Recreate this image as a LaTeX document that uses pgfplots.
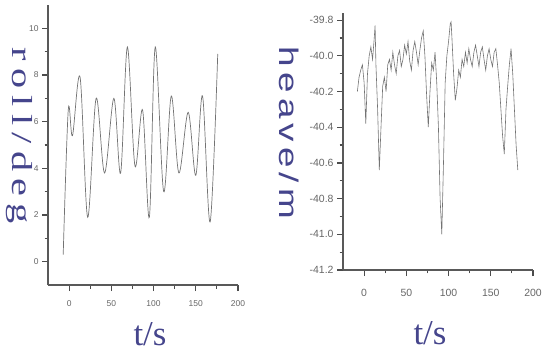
\documentclass[border=0pt]{standalone}
\usepackage{pgfplots}
\pgfplotsset{compat=1.18}
\usepackage{graphicx}
\usepackage{fontspec}
\setmainfont{Liberation Sans}
\newfontfamily\serif{Liberation Serif}
\definecolor{lab}{rgb}{0.27,0.27,0.55}
\definecolor{curve}{gray}{0.45}
\pgfplotsset{
  myaxis/.style={
    scale only axis,
    axis x line=bottom,
    axis y line=left,
    axis line style={-, line width=1.1pt, black!65},
    tick align=outside,
    major tick length=6bp,
    minor tick length=3.5bp,
    every tick/.style={black!70, line width=1.2pt},
    xtick={0,50,100,150,200},
    minor x tick num=1,
    xmin=-25, xmax=200,
    clip=false,
    /pgf/number format/assume math mode=true,
  }
}
\pgfplotstableread{
t v
-7 0.3
-1 6.5
4 5.4
13 7.9
22 1.9
32 7.0
42 3.8
53 7.0
61 3.8
69 9.2
78 4.1
87 6.5
95 1.9
102 9.2
112 3.0
121 7.1
130 3.8
141 6.4
150 3.7
158 7.1
167 1.7
176 8.9
}\roll
\pgfplotstableread{
t v
-8 -40.20
-6 -40.12
-4 -40.08
-2 -40.05
0 -40.15
2 -40.38
4 -40.10
6 -40.00
8 -39.95
10 -40.02
12 -39.90
13 -39.83
14 -40.05
16 -40.30
18 -40.64
20 -40.40
22 -40.17
24 -40.12
26 -40.20
28 -40.05
30 -40.02
32 -40.08
34 -39.98
36 -40.05
38 -40.10
40 -40.00
42 -39.97
44 -40.06
46 -40.02
48 -39.94
50 -39.99
52 -39.92
54 -40.03
56 -40.08
58 -39.97
60 -39.92
62 -39.98
64 -40.05
66 -39.97
68 -39.90
70 -39.86
72 -40.00
74 -40.22
76 -40.40
78 -40.20
80 -40.04
82 -40.08
84 -39.98
86 -40.15
88 -40.40
90 -40.80
92 -41.00
94 -40.60
96 -40.15
98 -40.00
100 -39.92
102 -39.82
103 -39.81
104 -39.90
106 -40.10
108 -40.25
110 -40.18
112 -40.08
114 -40.12
116 -40.02
118 -40.06
120 -39.98
122 -40.04
124 -39.96
126 -40.02
128 -40.06
130 -39.98
132 -39.94
134 -40.00
136 -40.06
138 -39.98
140 -39.95
142 -40.02
144 -40.08
146 -40.00
148 -39.96
150 -40.02
152 -40.06
154 -39.98
156 -39.96
158 -40.05
160 -40.15
162 -40.30
164 -40.45
166 -40.55
168 -40.30
170 -40.17
172 -40.05
174 -39.96
176 -40.10
178 -40.30
180 -40.50
182 -40.64
}\heave
\begin{document}
\begin{tikzpicture}
\path[use as bounding box] (0bp,0bp) rectangle (546bp,354bp);
\begin{axis}[myaxis,
  at={(48bp,69bp)}, anchor=south west,
  width=190bp, height=280bp,
  ymin=-1, ymax=11,
  ytick={0,2,4,6,8,10},
  minor y tick num=1,
  ticklabel style={font=\fontsize{8.5}{9}\selectfont, text=black!60},
  xticklabel style={yshift=-6bp},
]
\addplot[curve, line width=0.7pt, smooth, tension=0.55] table[x=t,y=v] {\roll};
\end{axis}
\begin{axis}[myaxis,
  at={(343bp,84bp)}, anchor=south west,
  width=190bp, height=257bp,
  ymin=-41.2, ymax=-39.76,
  ytick={-41.2,-41.0,-40.8,-40.6,-40.4,-40.2,-40.0,-39.8},
  minor y tick num=1,
  yticklabel style={/pgf/number format/.cd, fixed, fixed zerofill, precision=1},
  ticklabel style={font=\fontsize{10.5}{11}\selectfont, text=black!60},
  xticklabel style={yshift=-10bp},
]
\addplot[curve, line width=0.6pt] table[x=t,y=v] {\heave};
\end{axis}
\node[rotate=-90, text=lab] at (19bp,218bp) {\resizebox*{176bp}{\totalheight}{\fontsize{29}{29}\selectfont\serif\addfontfeature{LetterSpace=18}roll/deg}};
\node[rotate=-90, text=lab] at (289bp,221bp) {\resizebox*{172bp}{\totalheight}{\fontsize{27}{27}\selectfont\addfontfeature{LetterSpace=14}heave/m}};
\node[text=lab] at (150bp,20bp) {\fontsize{35}{35}\selectfont\serif t/s};
\node[text=lab] at (430bp,21bp) {\fontsize{35}{35}\selectfont\serif t/s};
\end{tikzpicture}
\end{document}
